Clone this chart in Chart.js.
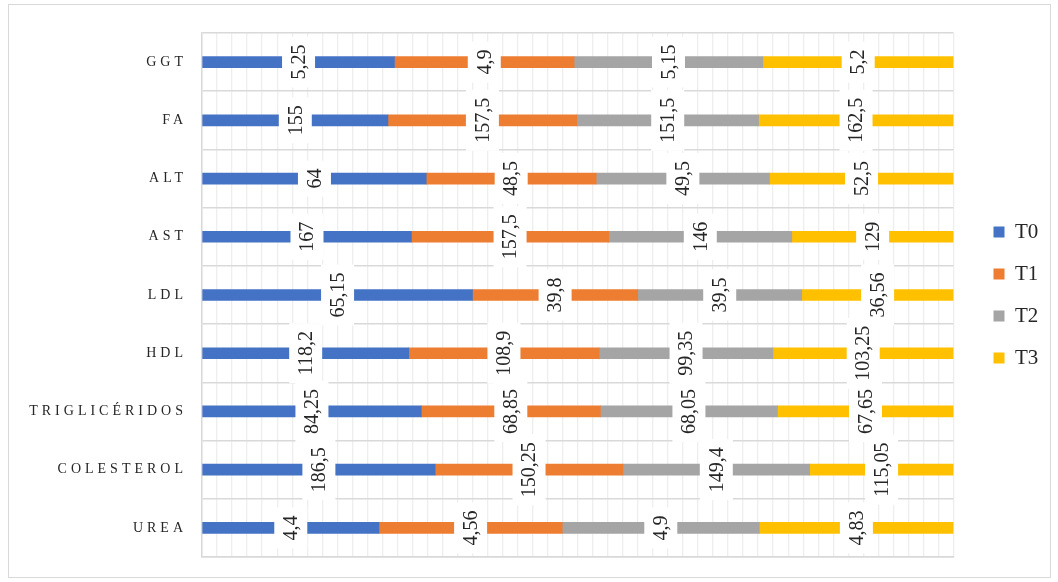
<!DOCTYPE html>
<html>
<head>
<meta charset="utf-8">
<title>Parámetros bioquímicos por tiempo</title>
<script src="https://cdn.jsdelivr.net/npm/chart.js@4.4.1/dist/chart.umd.min.js"></script>
<style>
  html, body { margin: 0; padding: 0; background: #ffffff; }
  #wrap { position: relative; width: 1058px; height: 582px; }
  #frame { position: absolute; left: 8px; top: 4px; width: 1043px; height: 574px;
           border: 1px solid #d9d9d9; box-sizing: border-box; pointer-events: none; }
</style>
</head>
<body>
<div id="wrap">
  <canvas id="chart" width="1058" height="582"></canvas>
  <div id="frame"></div>
</div>
<script>
// Categories listed bottom to top (first one sits on the bottom row)
const categories = ['UREA', 'COLESTEROL', 'TRIGLICÉRIDOS', 'HDL', 'LDL', 'AST', 'ALT', 'FA', 'GGT'];
const seriesNames = ['T0', 'T1', 'T2', 'T3'];
const valuesT0 = [4.4, 186.5, 84.25, 118.2, 65.15, 167, 64, 155, 5.25];
const valuesT1 = [4.56, 150.25, 68.85, 108.9, 39.8, 157.5, 48.5, 157.5, 4.9];
const valuesT2 = [4.9, 149.4, 68.05, 99.35, 39.5, 146, 49.5, 151.5, 5.15];
const valuesT3 = [4.83, 115.05, 67.65, 103.25, 36.56, 129, 52.5, 162.5, 5.2];

const seriesValues = [valuesT0, valuesT1, valuesT2, valuesT3];
const seriesColors = ['#4472C4', '#ED7D31', '#A5A5A5', '#FFC000'];

const SERIF = "'Liberation Serif', 'Times New Roman', serif";
const TEXT_DARK = '#262626';

// 100 % stacking: each bar segment is its share of the category total
const totals = categories.map((_, i) => seriesValues.reduce((s, arr) => s + arr[i], 0));
const datasets = seriesNames.map((name, k) => ({
  label: name,
  data: seriesValues[k].map((v, i) => v / totals[i] * 100),
  raw: seriesValues[k],
  backgroundColor: seriesColors[k],
  borderWidth: 0,
  barThickness: 11,
  stack: 'total'
}));

const fmt = v => String(v).replace('.', ',');

// Rotated value labels on white boxes, centred on each segment
const valueLabels = {
  id: 'valueLabels',
  afterDatasetsDraw(chart) {
    const ctx = chart.ctx;
    ctx.save();
    ctx.font = '20px ' + SERIF;
    chart.data.datasets.forEach((ds, d) => {
      const meta = chart.getDatasetMeta(d);
      meta.data.forEach((bar, i) => {
        const txt = fmt(ds.raw[i]);
        const cx = (bar.x + bar.base) / 2;
        const cy = bar.y;
        const tw = ctx.measureText(txt).width;
        const boxLong = tw + 16;
        const boxShort = 33;
        ctx.save();
        ctx.translate(cx, cy);
        ctx.rotate(-Math.PI / 2);
        ctx.fillStyle = '#ffffff';
        ctx.fillRect(-boxLong / 2, -boxShort / 2, boxLong, boxShort);
        ctx.fillStyle = TEXT_DARK;
        ctx.textAlign = 'center';
        ctx.textBaseline = 'middle';
        ctx.fillText(txt, 0, 1);
        ctx.restore();
      });
    });
    ctx.restore();
  }
};

// Legend sizing so the plot area ends where intended
const LEGEND_FONT = 21;
const LEGEND_PAD = 21;
const LEGEND_BOX = 11;
const measureCtx = document.createElement('canvas').getContext('2d');
measureCtx.font = LEGEND_FONT + 'px ' + SERIF;
const maxLegendText = Math.max(...seriesNames.map(n => measureCtx.measureText(n).width));
const legendWidth = LEGEND_PAD + LEGEND_BOX + LEGEND_FONT + maxLegendText;
const GAP_AXIS_WIDTH = 19;
const PLOT_RIGHT = 953;
const rightPad = Math.max(0, 1058 - PLOT_RIGHT - GAP_AXIS_WIDTH - legendWidth);

new Chart(document.getElementById('chart'), {
  type: 'bar',
  data: { labels: categories, datasets },
  options: {
    indexAxis: 'y',
    responsive: false,
    animation: false,
    events: [],
    layout: { padding: { top: 33, bottom: 25, left: 0, right: rightPad } },
    scales: {
      x: {
        type: 'linear',
        stacked: true,
        min: 0,
        max: 100,
        ticks: { display: false, stepSize: 2 },
        grid: { color: '#eeeeee', lineWidth: 1.3, drawTicks: false },
        border: { display: true, color: '#d9d9d9', width: 1.5 },
        afterFit(s) { s.height = 0; }
      },
      y: {
        type: 'category',
        stacked: true,
        reverse: true,
        grid: { offset: true, color: '#d9d9d9', lineWidth: 1.5, drawTicks: false },
        border: { display: true, color: '#d9d9d9', width: 1.5 },
        ticks: {
          color: TEXT_DARK,
          padding: 15,
          font: { family: SERIF, size: 14 }
        },
        afterFit(s) { s.width = 202; },
        afterUpdate(s) {
          if (s._spaced) return;
          s._spaced = true;
          const draw = s.drawLabels.bind(s);
          s.drawLabels = (area) => {
            const ctx = s.ctx;
            ctx.save();
            ctx.letterSpacing = '4px';
            draw(area);
            ctx.restore();
          };
        }
      },
      gap: {
        type: 'category',
        axis: 'y',
        position: 'right',
        grid: { display: false, drawTicks: false },
        border: { display: false },
        ticks: { display: false },
        afterFit(s) { s.width = GAP_AXIS_WIDTH; }
      }
    },
    plugins: {
      legend: {
        position: 'right',
        align: 'center',
        labels: {
          boxWidth: LEGEND_BOX,
          boxHeight: LEGEND_BOX,
          padding: LEGEND_PAD,
          color: TEXT_DARK,
          font: { family: SERIF, size: LEGEND_FONT }
        }
      },
      tooltip: { enabled: false }
    }
  },
  plugins: [valueLabels]
});
</script>
</body>
</html>
